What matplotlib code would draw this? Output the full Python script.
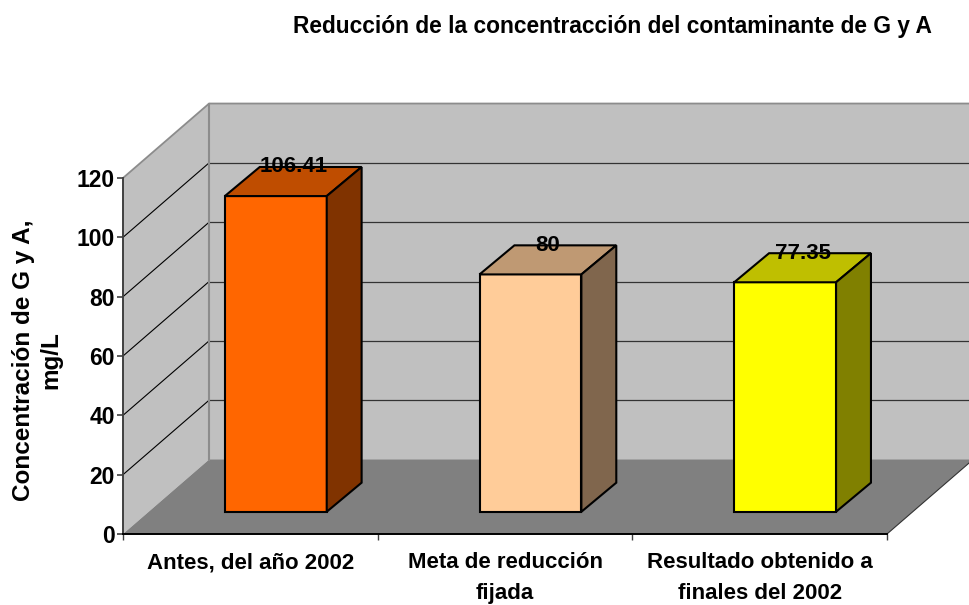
import matplotlib
matplotlib.use('Agg')
import matplotlib.pyplot as plt

plt.rcParams['font.family'] = ['Liberation Sans', 'DejaVu Sans']
plt.rcParams['font.weight'] = 'bold'

# datos
categorias = ['Antes, del año 2002', 'Meta de reducción\nfijada', 'Resultado obtenido a\nfinales del 2002']
valores = [106.41, 80, 77.35]
etiquetas = ['106.41', '80', '77.35']
yticks = [0, 20, 40, 60, 80, 100, 120]

# colores de cada barra: frente, arriba, lado
frente = ['#FF6600', '#FFCC99', '#FFFF00']
arriba = ['#BF4D00', '#BF9973', '#BFBF00']
lado = ['#803300', '#80664D', '#808000']

# profundidad del grafico en unidades de datos
prof_x, prof_y = 0.338, 25.1
base_x, base_y = 0.1, 7.5
barra_x, barra_y = 0.137, 9.8
ancho = 0.4

fig = plt.figure(figsize=(9.69, 6.05), dpi=100)
W, H = 969, 605
ax = fig.add_axes([123 / W, 1 - 534 / H, 764 / W, 356 / H])
ax.set_xlim(0, 3)
ax.set_ylim(0, 120)
ax.patch.set_visible(False)

# paredes y piso
tope = yticks[-1]
ax.fill([prof_x, 3 + prof_x, 3 + prof_x, prof_x], [prof_y, prof_y, tope + prof_y, tope + prof_y],
        color='#C0C0C0', clip_on=False, zorder=1, lw=0)
ax.fill([0, prof_x, prof_x, 0], [0, prof_y, tope + prof_y, tope],
        color='#C0C0C0', clip_on=False, zorder=1, lw=0)
ax.fill([0, prof_x, 3 + prof_x, 3], [0, prof_y, prof_y, 0],
        color='#808080', clip_on=False, zorder=2, lw=0)

# lineas de la cuadricula
for v in yticks[1:-1]:
    ax.plot([0, prof_x], [v, v + prof_y], color='black', lw=0.8, clip_on=False, zorder=3)
    ax.plot([prof_x, 3 + prof_x], [v + prof_y, v + prof_y], color='#333333', lw=0.9, clip_on=False, zorder=3)

# bordes grises
ax.plot([0, prof_x, 3 + prof_x], [tope, tope + prof_y, tope + prof_y], color='#8C8C8C', lw=1.3, clip_on=False, zorder=3)
ax.plot([prof_x, prof_x], [prof_y, tope + prof_y], color='#8C8C8C', lw=1.5, clip_on=False, zorder=3)
ax.plot([3, 3 + prof_x], [0, prof_y], color='#333333', lw=0.8, clip_on=False, zorder=3)

# barras
for i in range(len(valores)):
    x0 = i + 0.5 + base_x - ancho / 2
    x1 = x0 + ancho
    y0 = base_y
    y1 = base_y + valores[i]
    ax.fill([x0, x1, x1, x0], [y0, y0, y1, y1], facecolor=frente[i], edgecolor='black', lw=1.5, zorder=5, clip_on=False)
    ax.fill([x0, x1, x1 + barra_x, x0 + barra_x], [y1, y1, y1 + barra_y, y1 + barra_y],
            facecolor=arriba[i], edgecolor='black', lw=1.5, zorder=5, clip_on=False)
    ax.fill([x1, x1 + barra_x, x1 + barra_x, x1], [y0, y0 + barra_y, y1 + barra_y, y1],
            facecolor=lado[i], edgecolor='black', lw=1.5, zorder=5, clip_on=False)
    ax.text((x0 + x1 + barra_x) / 2, y1 + barra_y, etiquetas[i], ha='center', va='center',
            fontsize=16, fontweight='bold', color='black', zorder=6)

# ejes
for s in ['top', 'right']:
    ax.spines[s].set_visible(False)
ax.spines['left'].set_color('#404040')
ax.spines['left'].set_linewidth(1.4)
ax.spines['bottom'].set_color('black')
ax.spines['bottom'].set_linewidth(1.4)
for s in ax.spines.values():
    s.set_zorder(4)

ax.set_yticks(yticks)
ax.set_yticklabels([str(v) for v in yticks], fontsize=16.5, fontweight='bold')
ax.tick_params(axis='y', length=4, width=1.2, color='#404040', pad=2)
ax.set_xticks([0, 1, 2, 3])
ax.set_xticklabels([])
ax.tick_params(axis='x', length=4, width=1, color='#404040')
ax.set_xticks([0.5, 1.5, 2.5], minor=True)
ax.set_xticklabels(categorias, minor=True, fontsize=16, fontweight='bold', linespacing=1.65)
ax.tick_params(axis='x', which='minor', length=0, pad=13)

fig.text(37 / W, 1 - 360 / H, 'Concentración de G y A,\nmg/L', rotation=90, ha='center', va='center',
         fontsize=17.5, fontweight='bold', linespacing=1.25)
fig.text(612 / W, 1 - 26 / H, 'Reducción de la concentracción del contaminante de G y A', ha='center', va='center',
         fontsize=16.4, fontweight='bold')

fig.savefig('out.png', dpi=100)
